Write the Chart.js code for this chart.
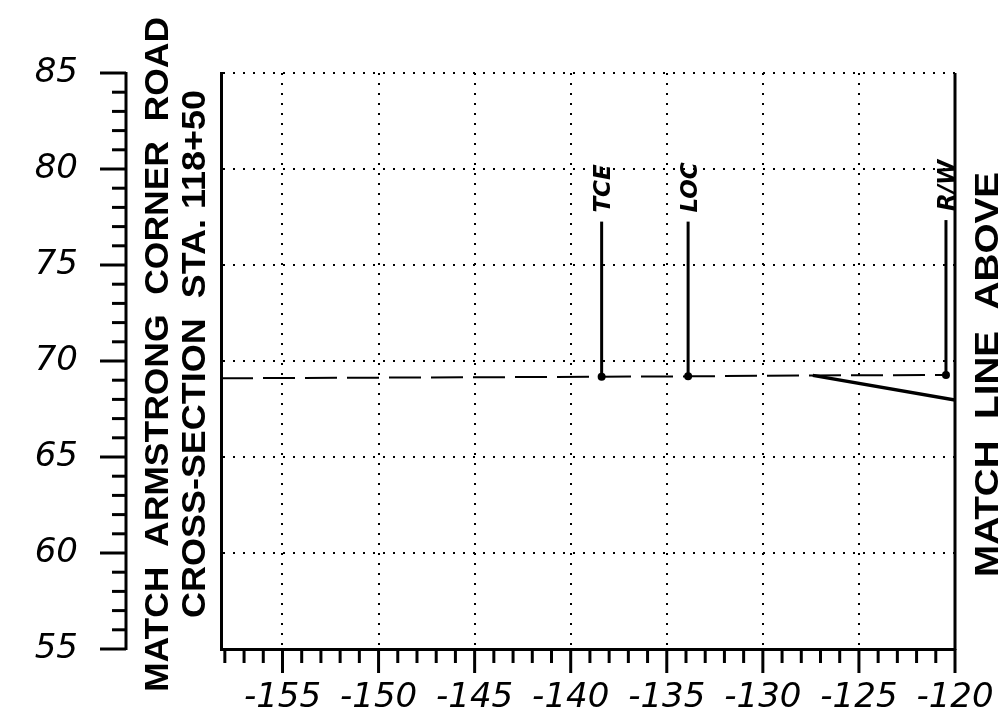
<!DOCTYPE html>
<html>
<head>
<meta charset="utf-8">
<script src="https://cdn.jsdelivr.net/npm/chart.js@4"></script>
<style>
  html, body { margin: 0; padding: 0; background: #fff; }
</style>
</head>
<body>
<canvas id="sectionChart" width="999" height="724"></canvas>
<script>
const xTicks = [-155, -150, -145, -140, -135, -130, -125, -120];
const yTicks = [55, 60, 65, 70, 75, 80, 85];
const xRange = [-158.2, -120];
const yRange = [55, 85];

// existing ground (dashed) and proposed slope (solid)
const groundX = [-158.2, -138.39, -133.89, -127.4, -120.47];
const groundY = [69.10, 69.18, 69.20, 69.25, 69.27];
const slopeX = [-127.4, -120];
const slopeY = [69.25, 67.97];

// vertical markers
const markerNames = ['TCE', 'LOC', 'R/W'];
const markerX = [-138.39, -133.89, -120.47];
const markerBase = [69.18, 69.20, 69.27];
const markerTop = [77.26, 77.26, 77.34];

const leftTitles = ['MATCH  ARMSTRONG  CORNER  ROAD', 'CROSS-SECTION  STA. 118+50'];
const rightTitle = 'MATCH  LINE  ABOVE';

const tickFont = { family: 'DejaVu Sans', style: 'italic', size: 34 };
const titleFont = "bold 34px 'Liberation Sans'";

function line(ctx, x1, y1, x2, y2) {
  ctx.beginPath();
  ctx.moveTo(x1, y1);
  ctx.lineTo(x2, y2);
  ctx.stroke();
}

// text reading bottom to top, stretched to run from startY up to endY
function drawUpText(ctx, text, cx, startY, endY, font, capH) {
  ctx.save();
  ctx.font = font;
  const w = ctx.measureText(text).width;
  ctx.translate(cx + capH / 2, startY);
  ctx.rotate(-Math.PI / 2);
  if (endY !== null) ctx.scale((startY - endY) / w, 1);
  ctx.textAlign = 'left';
  ctx.textBaseline = 'alphabetic';
  ctx.fillStyle = '#000';
  ctx.fillText(text, 0, 0);
  ctx.restore();
}

const framePlugin = {
  id: 'frame',
  afterDraw(chart) {
    const { ctx, chartArea: a, scales: { x, y } } = chart;
    ctx.save();
    ctx.strokeStyle = '#000';
    ctx.lineCap = 'butt';

    // right border
    ctx.lineWidth = 3;
    line(ctx, a.right, a.top, a.right, a.bottom + 1);

    // x ticks, minor every 1, major every 5
    for (let v = Math.ceil(xRange[0]); v <= xRange[1]; v++) {
      const px = x.getPixelForValue(v);
      const major = v % 5 === 0;
      ctx.lineWidth = 3;
      line(ctx, px, a.bottom, px, a.bottom + (major ? 24 : 14));
    }

    // detached y axis
    const axisX = 126;
    ctx.lineWidth = 3;
    line(ctx, axisX, y.getPixelForValue(yRange[1]) - 1, axisX, y.getPixelForValue(yRange[0]) + 1);
    for (let v = yRange[0]; v <= yRange[1]; v++) {
      const py = y.getPixelForValue(v);
      const major = v % 5 === 0;
      line(ctx, axisX - (major ? 26 : 14), py, axisX, py);
    }
    ctx.restore();

    // titles
    drawUpText(ctx, leftTitles[0], 155.5, 692, 17, titleFont, 25);
    drawUpText(ctx, leftTitles[1], 192.5, 618, 90, titleFont, 25);
    drawUpText(ctx, rightTitle, 985, 577, 172, titleFont, 25);

    // marker labels
    for (let i = 0; i < markerNames.length; i++) {
      const px = x.getPixelForValue(markerX[i]);
      const py = y.getPixelForValue(markerTop[i]);
      drawUpText(ctx, markerNames[i], px, py - 9, null, "bold italic 23px 'DejaVu Sans'", 17);
    }
  }
};

function pts(xs, ys) {
  return xs.map((v, i) => ({ x: v, y: ys[i] }));
}

const datasets = [
  {
    data: pts(groundX, groundY),
    borderColor: '#000',
    borderWidth: 2,
    borderDash: [32, 10],
    pointRadius: 0,
    tension: 0,
    fill: false
  },
  {
    data: pts(slopeX, slopeY),
    borderColor: '#000',
    borderWidth: 3.5,
    pointRadius: 0,
    tension: 0,
    fill: false
  }
];

markerNames.forEach((name, i) => {
  datasets.push({
    label: name,
    data: [{ x: markerX[i], y: markerBase[i] }, { x: markerX[i], y: markerTop[i] }],
    borderColor: '#000',
    backgroundColor: '#000',
    borderWidth: 3,
    pointRadius: [4, 0],
    pointBorderWidth: 0,
    fill: false
  });
});

const ctx = document.getElementById('sectionChart').getContext('2d');
const sectionChart = new Chart(ctx, {
  type: 'line',
  data: { datasets },
  options: {
    responsive: false,
    animation: false,
    devicePixelRatio: 1,
    layout: { padding: { top: 73, right: 44, left: 0, bottom: 0 }, autoPadding: false },
    plugins: { legend: { display: false }, tooltip: { enabled: false } },
    scales: {
      x: {
        type: 'linear',
        min: xRange[0],
        max: xRange[1],
        afterBuildTicks: s => { s.ticks = xTicks.map(v => ({ value: v })); },
        afterFit: s => { s.height = 75; s.paddingLeft = 0; s.paddingRight = 0; },
        grid: {
          color: c => (c.tick && c.tick.value === -120) ? 'rgba(0,0,0,0)' : '#000',
          lineWidth: 2,
          drawTicks: false
        },
        border: { display: true, color: '#000', width: 3, dash: [2, 8] },
        ticks: { padding: 29, color: '#000', font: tickFont, maxRotation: 0, callback: v => String(v) }
      },
      y: {
        type: 'linear',
        min: yRange[0],
        max: yRange[1],
        afterBuildTicks: s => { s.ticks = yTicks.map(v => ({ value: v })); },
        afterFit: s => { s.width = 221; s.paddingTop = 0; s.paddingBottom = 0; },
        grid: {
          color: c => (c.tick && c.tick.value === 55) ? 'rgba(0,0,0,0)' : '#000',
          lineWidth: 2,
          drawTicks: false
        },
        border: { display: true, color: '#000', width: 3, dash: [2, 8] },
        ticks: { padding: 143, color: '#000', font: tickFont, callback: v => String(v) }
      }
    }
  },
  plugins: [framePlugin]
});
</script>
</body>
</html>
